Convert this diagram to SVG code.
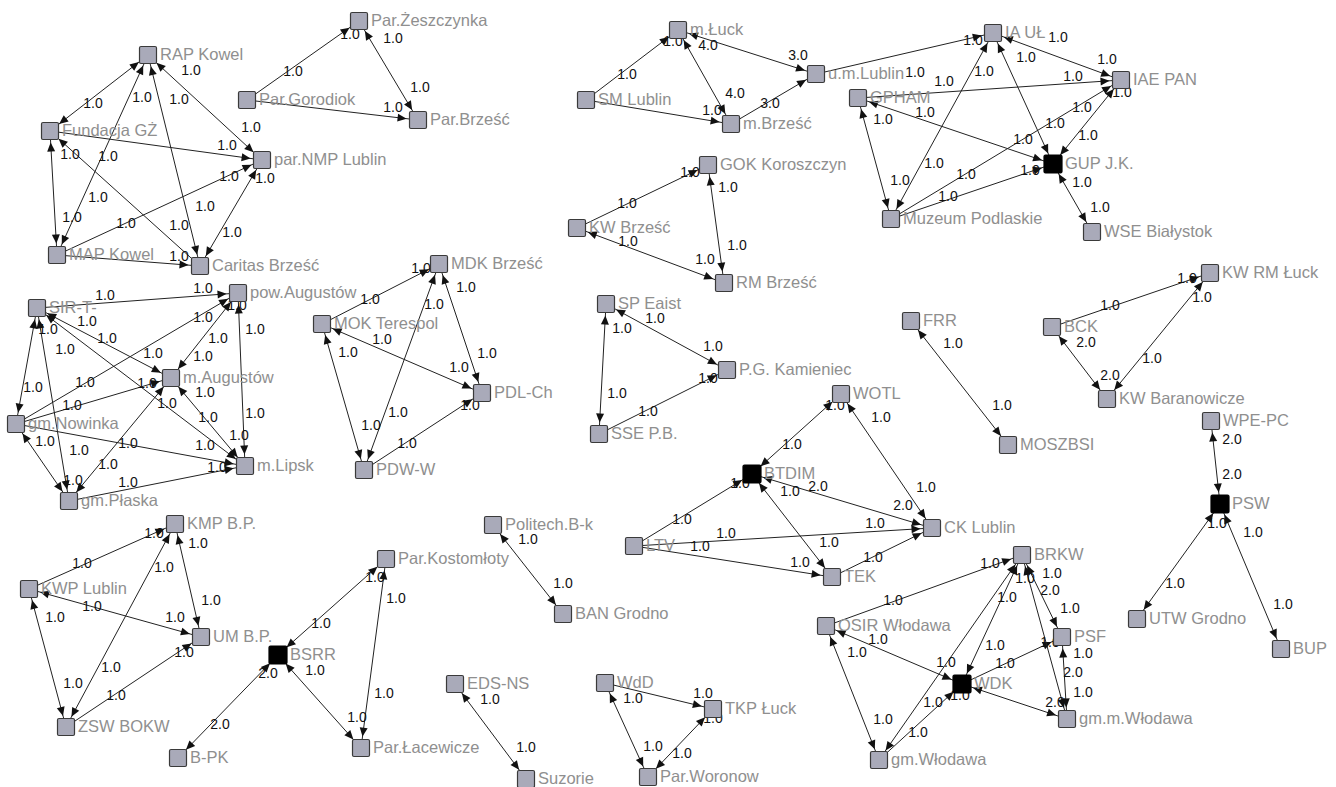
<svg xmlns="http://www.w3.org/2000/svg" width="1336" height="787" viewBox="0 0 1336 787">
<defs>
<marker id="ah" viewBox="-10 -5 23 10" refX="11.5" refY="0" markerWidth="23" markerHeight="10" markerUnits="userSpaceOnUse" orient="auto-start-reverse"><path d="M0,0 L-9,-4 L-9,4 Z" fill="#111"/></marker>
</defs>
<style>
line{stroke:#222;stroke-width:1;fill:none}
.bi{marker-start:url(#ah);marker-end:url(#ah)}
.u{marker-end:url(#ah)}
.sq{fill:#a9aab9;stroke:#3a3a3a;stroke-width:1.2}
.bk{fill:#000;stroke:#000;stroke-width:1.2}
.nl{font-family:"Liberation Sans",Arial,sans-serif;font-size:16.5px;fill:#8f8f8f}
.el text{font-family:"Liberation Sans",Arial,sans-serif;font-size:14px;fill:#111;text-anchor:middle}
</style>
<rect width="1336" height="787" fill="#fff"/>
<g id="connectors">
<line class="bi" x1="148" y1="55" x2="50" y2="131"/>
<line class="bi" x1="148" y1="55" x2="57" y2="255"/>
<line class="bi" x1="148" y1="55" x2="200" y2="266"/>
<line class="bi" x1="148" y1="55" x2="262" y2="160"/>
<line class="u" x1="50" y1="131" x2="262" y2="160"/>
<line class="bi" x1="50" y1="131" x2="57" y2="255"/>
<line class="u" x1="57" y1="255" x2="262" y2="160"/>
<line class="u" x1="200" y1="266" x2="50" y2="131"/>
<line class="u" x1="57" y1="255" x2="200" y2="266"/>
<line class="bi" x1="200" y1="266" x2="262" y2="160"/>
<line class="u" x1="247" y1="100" x2="359" y2="21"/>
<line class="bi" x1="359" y1="21" x2="418" y2="120"/>
<line class="u" x1="247" y1="100" x2="418" y2="120"/>
<line class="u" x1="586" y1="100" x2="678" y2="30"/>
<line class="bi" x1="678" y1="30" x2="816" y2="74"/>
<line class="bi" x1="731" y1="124" x2="678" y2="30"/>
<line class="u" x1="586" y1="100" x2="731" y2="124"/>
<line class="u" x1="731" y1="124" x2="816" y2="74"/>
<line class="u" x1="577" y1="228" x2="708" y2="165"/>
<line class="bi" x1="708" y1="165" x2="724" y2="283"/>
<line class="bi" x1="577" y1="228" x2="724" y2="283"/>
<line class="u" x1="816" y1="74" x2="993" y2="33"/>
<line class="u" x1="858" y1="98" x2="1121" y2="80"/>
<line class="bi" x1="993" y1="33" x2="1121" y2="80"/>
<line class="bi" x1="993" y1="33" x2="1053" y2="164"/>
<line class="bi" x1="993" y1="33" x2="891" y2="219"/>
<line class="bi" x1="858" y1="98" x2="891" y2="219"/>
<line class="bi" x1="858" y1="98" x2="1053" y2="164"/>
<line class="u" x1="891" y1="219" x2="1121" y2="80"/>
<line class="u" x1="891" y1="219" x2="1053" y2="164"/>
<line class="bi" x1="1121" y1="80" x2="1053" y2="164"/>
<line class="bi" x1="1053" y1="164" x2="1092" y2="232"/>
<line class="bi" x1="606" y1="304" x2="727" y2="370"/>
<line class="bi" x1="606" y1="304" x2="599" y2="434"/>
<line class="u" x1="599" y1="434" x2="727" y2="370"/>
<line class="bi" x1="911" y1="321" x2="1008" y2="445"/>
<line class="u" x1="1052" y1="327" x2="1210" y2="273"/>
<line class="bi" x1="1052" y1="327" x2="1107" y2="399"/>
<line class="bi" x1="1107" y1="399" x2="1210" y2="273"/>
<line class="bi" x1="1211" y1="421" x2="1220" y2="504"/>
<line class="bi" x1="1220" y1="504" x2="1137" y2="619"/>
<line class="bi" x1="1220" y1="504" x2="1281" y2="649"/>
<line class="bi" x1="752" y1="474" x2="841" y2="394"/>
<line class="bi" x1="841" y1="394" x2="932" y2="528"/>
<line class="bi" x1="752" y1="474" x2="932" y2="528"/>
<line class="u" x1="634" y1="546" x2="752" y2="474"/>
<line class="u" x1="634" y1="546" x2="932" y2="528"/>
<line class="u" x1="634" y1="546" x2="832" y2="577"/>
<line class="bi" x1="752" y1="474" x2="832" y2="577"/>
<line class="u" x1="832" y1="577" x2="932" y2="528"/>
<line class="u" x1="826" y1="626" x2="1022" y2="555"/>
<line class="bi" x1="826" y1="626" x2="962" y2="684"/>
<line class="bi" x1="826" y1="626" x2="879" y2="760"/>
<line class="bi" x1="879" y1="760" x2="1022" y2="555"/>
<line class="bi" x1="962" y1="684" x2="1022" y2="555"/>
<line class="u" x1="879" y1="760" x2="962" y2="684"/>
<line class="u" x1="962" y1="684" x2="1062" y2="637"/>
<line class="bi" x1="962" y1="684" x2="1067" y2="719"/>
<line class="bi" x1="1022" y1="555" x2="1062" y2="637"/>
<line class="bi" x1="1022" y1="555" x2="1067" y2="719"/>
<line class="bi" x1="1062" y1="637" x2="1067" y2="719"/>
<line class="u" x1="29" y1="589" x2="175" y2="524"/>
<line class="bi" x1="175" y1="524" x2="201" y2="637"/>
<line class="bi" x1="175" y1="524" x2="66" y2="727"/>
<line class="bi" x1="29" y1="589" x2="201" y2="637"/>
<line class="bi" x1="29" y1="589" x2="66" y2="727"/>
<line class="u" x1="66" y1="727" x2="201" y2="637"/>
<line class="bi" x1="278" y1="655" x2="386" y2="559"/>
<line class="bi" x1="386" y1="559" x2="361" y2="748"/>
<line class="bi" x1="278" y1="655" x2="361" y2="748"/>
<line class="bi" x1="178" y1="758" x2="278" y2="655"/>
<line class="bi" x1="493" y1="525" x2="563" y2="614"/>
<line class="bi" x1="455" y1="684" x2="526" y2="779"/>
<line class="u" x1="605" y1="683" x2="713" y2="709"/>
<line class="bi" x1="605" y1="683" x2="648" y2="777"/>
<line class="bi" x1="648" y1="777" x2="713" y2="709"/>
<line class="u" x1="37" y1="308" x2="238" y2="293"/>
<line class="bi" x1="37" y1="308" x2="171" y2="378"/>
<line class="bi" x1="37" y1="308" x2="245" y2="466"/>
<line class="bi" x1="37" y1="308" x2="16" y2="424"/>
<line class="bi" x1="37" y1="308" x2="69" y2="501"/>
<line class="u" x1="16" y1="424" x2="238" y2="293"/>
<line class="u" x1="16" y1="424" x2="171" y2="378"/>
<line class="u" x1="16" y1="424" x2="245" y2="466"/>
<line class="bi" x1="16" y1="424" x2="69" y2="501"/>
<line class="bi" x1="69" y1="501" x2="171" y2="378"/>
<line class="u" x1="69" y1="501" x2="245" y2="466"/>
<line class="bi" x1="171" y1="378" x2="238" y2="293"/>
<line class="bi" x1="171" y1="378" x2="245" y2="466"/>
<line class="bi" x1="245" y1="466" x2="238" y2="293"/>
<line class="u" x1="322" y1="324" x2="439" y2="264"/>
<line class="bi" x1="439" y1="264" x2="482" y2="393"/>
<line class="bi" x1="364" y1="470" x2="439" y2="264"/>
<line class="bi" x1="322" y1="324" x2="482" y2="393"/>
<line class="bi" x1="322" y1="324" x2="364" y2="470"/>
<line class="u" x1="364" y1="470" x2="482" y2="393"/>
</g>
<g id="edge-labels" class="el">
<text x="191" y="75">1.0</text><text x="93" y="108">1.0</text><text x="142" y="102">1.0</text><text x="179" y="104">1.0</text>
<text x="251" y="132">1.0</text><text x="227" y="150">1.0</text><text x="70" y="159">1.0</text><text x="108" y="161">1.0</text>
<text x="229" y="181">1.0</text><text x="265" y="183">1.0</text><text x="98" y="202">1.0</text><text x="205" y="211">1.0</text>
<text x="72" y="222">1.0</text><text x="126" y="228">1.0</text><text x="179" y="230">1.0</text><text x="232" y="237">1.0</text>
<text x="179" y="261">1.0</text>
<text x="293" y="76">1.0</text><text x="350" y="39">1.0</text><text x="393" y="43">1.0</text><text x="420" y="92">1.0</text><text x="393" y="112">1.0</text>
<text x="627" y="79">1.0</text><text x="673" y="46">1.0</text><text x="708" y="50">4.0</text><text x="798" y="60">3.0</text>
<text x="735" y="98">4.0</text><text x="712" y="115">1.0</text><text x="770" y="108">3.0</text>
<text x="627" y="208">1.0</text><text x="690" y="177">1.0</text><text x="728" y="192">1.0</text><text x="737" y="250">1.0</text>
<text x="705" y="264">1.0</text><text x="628" y="246">1.0</text>
<text x="973" y="45">1.0</text><text x="915" y="77">1.0</text><text x="944" y="86">1.0</text><text x="925" y="117">1.0</text>
<text x="1026" y="62">1.0</text><text x="1107" y="64">1.0</text><text x="1073" y="81">1.0</text><text x="1058" y="42">1.0</text>
<text x="984" y="76">1.0</text><text x="883" y="124">1.0</text><text x="1082" y="112">1.0</text><text x="1122" y="97">1.0</text>
<text x="1055" y="128">1.0</text><text x="1023" y="144">1.0</text><text x="1088" y="140">1.0</text><text x="934" y="168">1.0</text>
<text x="966" y="179">1.0</text><text x="900" y="185">1.0</text><text x="948" y="201">1.0</text><text x="1030" y="175">1.0</text>
<text x="1082" y="187">1.0</text><text x="1100" y="212">1.0</text>
<text x="655" y="323">1.0</text><text x="622" y="333">1.0</text><text x="713" y="351">1.0</text><text x="617" y="398">1.0</text>
<text x="648" y="416">1.0</text><text x="708" y="383">1.0</text>
<text x="953" y="348">1.0</text><text x="1002" y="410">1.0</text>
<text x="1110" y="310">1.0</text><text x="1187" y="283">1.0</text><text x="1202" y="302">1.0</text><text x="1152" y="363">1.0</text>
<text x="1086" y="347">2.0</text><text x="1110" y="380">2.0</text>
<text x="1232" y="444">2.0</text><text x="1232" y="479">2.0</text><text x="1217" y="528">1.0</text><text x="1175" y="588">1.0</text>
<text x="1253" y="537">1.0</text><text x="1283" y="609">1.0</text>
<text x="792" y="449">1.0</text><text x="835" y="410">1.0</text><text x="881" y="422">1.0</text><text x="926" y="492">1.0</text>
<text x="903" y="510">2.0</text><text x="790" y="496">1.0</text><text x="818" y="491">2.0</text><text x="682" y="524">1.0</text>
<text x="740" y="488">1.0</text><text x="700" y="551">1.0</text><text x="726" y="538">1.0</text><text x="875" y="528">1.0</text>
<text x="800" y="567">1.0</text><text x="829" y="547">1.0</text><text x="873" y="562">1.0</text>
<text x="893" y="605">1.0</text><text x="990" y="568">1.0</text><text x="878" y="644">1.0</text><text x="857" y="657">1.0</text>
<text x="883" y="724">1.0</text><text x="946" y="667">1.0</text><text x="1007" y="602">1.0</text><text x="995" y="650">1.0</text>
<text x="918" y="737">1.0</text><text x="933" y="707">1.0</text><text x="960" y="700">1.0</text><text x="1005" y="668">1.0</text>
<text x="1050" y="647">1.0</text><text x="1055" y="707">2.0</text><text x="1052" y="578">1.0</text><text x="1050" y="595">2.0</text>
<text x="1070" y="613">1.0</text><text x="1025" y="583">1.0</text><text x="1083" y="658">1.0</text><text x="1073" y="677">2.0</text>
<text x="1083" y="697">1.0</text>
<text x="82" y="568">1.0</text><text x="154" y="538">1.0</text><text x="198" y="548">1.0</text><text x="211" y="605">1.0</text>
<text x="164" y="572">1.0</text><text x="111" y="672">1.0</text><text x="92" y="611">1.0</text><text x="175" y="622">1.0</text>
<text x="55" y="622">1.0</text><text x="73" y="688">1.0</text><text x="116" y="700">1.0</text><text x="184" y="657">1.0</text>
<text x="321" y="628">1.0</text><text x="375" y="582">1.0</text><text x="396" y="603">1.0</text><text x="384" y="698">1.0</text>
<text x="357" y="722">1.0</text><text x="315" y="675">1.0</text><text x="220" y="729">2.0</text><text x="268" y="678">2.0</text>
<text x="528" y="544">1.0</text><text x="563" y="588">1.0</text><text x="490" y="704">1.0</text><text x="526" y="752">1.0</text>
<text x="633" y="703">1.0</text><text x="703" y="698">1.0</text><text x="653" y="751">1.0</text><text x="682" y="758">1.0</text>
<text x="713" y="723">1.0</text>
<text x="105" y="300">1.0</text><text x="203" y="293">1.0</text><text x="87" y="326">1.0</text><text x="48" y="334">1.0</text>
<text x="107" y="343">1.0</text><text x="65" y="354">1.0</text><text x="153" y="358">1.0</text><text x="203" y="361">1.0</text>
<text x="203" y="322">1.0</text><text x="218" y="343">1.0</text><text x="255" y="334">1.0</text><text x="33" y="392">1.0</text>
<text x="85" y="387">1.0</text><text x="147" y="388">1.0</text><text x="72" y="410">1.0</text><text x="205" y="397">1.0</text>
<text x="167" y="408">1.0</text><text x="255" y="418">1.0</text><text x="208" y="422">1.0</text><text x="45" y="446">1.0</text>
<text x="79" y="455">1.0</text><text x="128" y="448">1.0</text><text x="239" y="440">1.0</text><text x="108" y="469">1.0</text>
<text x="205" y="450">1.0</text><text x="217" y="472">1.0</text><text x="73" y="485">1.0</text><text x="128" y="487">1.0</text>
<text x="237" y="310">1.0</text>
<text x="370" y="304">1.0</text><text x="421" y="273">1.0</text><text x="466" y="292">1.0</text><text x="487" y="358">1.0</text>
<text x="434" y="309">1.0</text><text x="398" y="417">1.0</text><text x="371" y="430">1.0</text><text x="382" y="344">1.0</text>
<text x="459" y="372">1.0</text><text x="348" y="357">1.0</text><text x="407" y="448">1.0</text><text x="470" y="410">1.0</text>
</g>
<g id="n-rap-kowel" transform="translate(148,55)"><rect class="sq" x="-8.5" y="-8.5" width="17" height="17" rx="1.5"/><text class="nl" x="12" y="4.5">RAP Kowel</text></g>
<g id="n-fundacja-gz" transform="translate(50,131)"><rect class="sq" x="-8.5" y="-8.5" width="17" height="17" rx="1.5"/><text class="nl" x="12" y="4.5">Fundacja GŻ</text></g>
<g id="n-par-nmp-lublin" transform="translate(262,160)"><rect class="sq" x="-8.5" y="-8.5" width="17" height="17" rx="1.5"/><text class="nl" x="12" y="4.5">par.NMP Lublin</text></g>
<g id="n-map-kowel" transform="translate(57,255)"><rect class="sq" x="-8.5" y="-8.5" width="17" height="17" rx="1.5"/><text class="nl" x="12" y="4.5">MAP Kowel</text></g>
<g id="n-caritas-brzesc" transform="translate(200,266)"><rect class="sq" x="-8.5" y="-8.5" width="17" height="17" rx="1.5"/><text class="nl" x="12" y="4.5">Caritas Brześć</text></g>
<g id="n-par-zeszczynka" transform="translate(359,21)"><rect class="sq" x="-8.5" y="-8.5" width="17" height="17" rx="1.5"/><text class="nl" x="12" y="4.5">Par.Żeszczynka</text></g>
<g id="n-par-gorodiok" transform="translate(247,100)"><rect class="sq" x="-8.5" y="-8.5" width="17" height="17" rx="1.5"/><text class="nl" x="12" y="4.5">Par.Gorodiok</text></g>
<g id="n-par-brzesc" transform="translate(418,120)"><rect class="sq" x="-8.5" y="-8.5" width="17" height="17" rx="1.5"/><text class="nl" x="12" y="4.5">Par.Brześć</text></g>
<g id="n-m-luck" transform="translate(678,30)"><rect class="sq" x="-8.5" y="-8.5" width="17" height="17" rx="1.5"/><text class="nl" x="12" y="4.5">m.Łuck</text></g>
<g id="n-sm-lublin" transform="translate(586,100)"><rect class="sq" x="-8.5" y="-8.5" width="17" height="17" rx="1.5"/><text class="nl" x="12" y="4.5">SM Lublin</text></g>
<g id="n-m-brzesc" transform="translate(731,124)"><rect class="sq" x="-8.5" y="-8.5" width="17" height="17" rx="1.5"/><text class="nl" x="12" y="4.5">m.Brześć</text></g>
<g id="n-u-m-lublin" transform="translate(816,74)"><rect class="sq" x="-8.5" y="-8.5" width="17" height="17" rx="1.5"/><text class="nl" x="12" y="4.5">u.m.Lublin</text></g>
<g id="n-gok-koroszczyn" transform="translate(708,165)"><rect class="sq" x="-8.5" y="-8.5" width="17" height="17" rx="1.5"/><text class="nl" x="12" y="4.5">GOK Koroszczyn</text></g>
<g id="n-kw-brzesc" transform="translate(577,228)"><rect class="sq" x="-8.5" y="-8.5" width="17" height="17" rx="1.5"/><text class="nl" x="12" y="4.5">KW Brześć</text></g>
<g id="n-rm-brzesc" transform="translate(724,283)"><rect class="sq" x="-8.5" y="-8.5" width="17" height="17" rx="1.5"/><text class="nl" x="12" y="4.5">RM Brześć</text></g>
<g id="n-ia-ul" transform="translate(993,33)"><rect class="sq" x="-8.5" y="-8.5" width="17" height="17" rx="1.5"/><text class="nl" x="12" y="4.5">IA UŁ</text></g>
<g id="n-iae-pan" transform="translate(1121,80)"><rect class="sq" x="-8.5" y="-8.5" width="17" height="17" rx="1.5"/><text class="nl" x="12" y="4.5">IAE PAN</text></g>
<g id="n-gpham" transform="translate(858,98)"><rect class="sq" x="-8.5" y="-8.5" width="17" height="17" rx="1.5"/><text class="nl" x="12" y="4.5">GPHAM</text></g>
<g id="n-gup-jk" transform="translate(1053,164)"><rect class="bk" x="-9" y="-9" width="18" height="18" rx="1.5"/><text class="nl" x="12" y="4.5">GUP J.K.</text></g>
<g id="n-muzeum-podlaskie" transform="translate(891,219)"><rect class="sq" x="-8.5" y="-8.5" width="17" height="17" rx="1.5"/><text class="nl" x="12" y="4.5">Muzeum Podlaskie</text></g>
<g id="n-wse-bialystok" transform="translate(1092,232)"><rect class="sq" x="-8.5" y="-8.5" width="17" height="17" rx="1.5"/><text class="nl" x="12" y="4.5">WSE Białystok</text></g>
<g id="n-sp-eaist" transform="translate(606,304)"><rect class="sq" x="-8.5" y="-8.5" width="17" height="17" rx="1.5"/><text class="nl" x="12" y="4.5">SP Eaist</text></g>
<g id="n-pg-kamieniec" transform="translate(727,370)"><rect class="sq" x="-8.5" y="-8.5" width="17" height="17" rx="1.5"/><text class="nl" x="12" y="4.5">P.G. Kamieniec</text></g>
<g id="n-sse-pb" transform="translate(599,434)"><rect class="sq" x="-8.5" y="-8.5" width="17" height="17" rx="1.5"/><text class="nl" x="12" y="4.5">SSE P.B.</text></g>
<g id="n-frr" transform="translate(911,321)"><rect class="sq" x="-8.5" y="-8.5" width="17" height="17" rx="1.5"/><text class="nl" x="12" y="4.5">FRR</text></g>
<g id="n-moszbsi" transform="translate(1008,445)"><rect class="sq" x="-8.5" y="-8.5" width="17" height="17" rx="1.5"/><text class="nl" x="12" y="4.5">MOSZBSI</text></g>
<g id="n-kw-rm-luck" transform="translate(1210,273)"><rect class="sq" x="-8.5" y="-8.5" width="17" height="17" rx="1.5"/><text class="nl" x="12" y="4.5">KW RM Łuck</text></g>
<g id="n-bck" transform="translate(1052,327)"><rect class="sq" x="-8.5" y="-8.5" width="17" height="17" rx="1.5"/><text class="nl" x="12" y="4.5">BCK</text></g>
<g id="n-kw-baranowicze" transform="translate(1107,399)"><rect class="sq" x="-8.5" y="-8.5" width="17" height="17" rx="1.5"/><text class="nl" x="12" y="4.5">KW Baranowicze</text></g>
<g id="n-wpe-pc" transform="translate(1211,421)"><rect class="sq" x="-8.5" y="-8.5" width="17" height="17" rx="1.5"/><text class="nl" x="12" y="4.5">WPE-PC</text></g>
<g id="n-psw" transform="translate(1220,504)"><rect class="bk" x="-9" y="-9" width="18" height="18" rx="1.5"/><text class="nl" x="12" y="4.5">PSW</text></g>
<g id="n-utw-grodno" transform="translate(1137,619)"><rect class="sq" x="-8.5" y="-8.5" width="17" height="17" rx="1.5"/><text class="nl" x="12" y="4.5">UTW Grodno</text></g>
<g id="n-bup" transform="translate(1281,649)"><rect class="sq" x="-8.5" y="-8.5" width="17" height="17" rx="1.5"/><text class="nl" x="12" y="4.5">BUP</text></g>
<g id="n-btdim" transform="translate(752,474)"><rect class="bk" x="-9" y="-9" width="18" height="18" rx="1.5"/><text class="nl" x="12" y="4.5">BTDIM</text></g>
<g id="n-ltv" transform="translate(634,546)"><rect class="sq" x="-8.5" y="-8.5" width="17" height="17" rx="1.5"/><text class="nl" x="12" y="4.5">LTV</text></g>
<g id="n-tek" transform="translate(832,577)"><rect class="sq" x="-8.5" y="-8.5" width="17" height="17" rx="1.5"/><text class="nl" x="12" y="4.5">TEK</text></g>
<g id="n-ck-lublin" transform="translate(932,528)"><rect class="sq" x="-8.5" y="-8.5" width="17" height="17" rx="1.5"/><text class="nl" x="12" y="4.5">CK Lublin</text></g>
<g id="n-wotl" transform="translate(841,394)"><rect class="sq" x="-8.5" y="-8.5" width="17" height="17" rx="1.5"/><text class="nl" x="12" y="4.5">WOTL</text></g>
<g id="n-brkw" transform="translate(1022,555)"><rect class="sq" x="-8.5" y="-8.5" width="17" height="17" rx="1.5"/><text class="nl" x="12" y="4.5">BRKW</text></g>
<g id="n-osir-wlodawa" transform="translate(826,626)"><rect class="sq" x="-8.5" y="-8.5" width="17" height="17" rx="1.5"/><text class="nl" x="12" y="4.5">OSIR Włodawa</text></g>
<g id="n-wdk" transform="translate(962,684)"><rect class="bk" x="-9" y="-9" width="18" height="18" rx="1.5"/><text class="nl" x="12" y="4.5">WDK</text></g>
<g id="n-gm-wlodawa" transform="translate(879,760)"><rect class="sq" x="-8.5" y="-8.5" width="17" height="17" rx="1.5"/><text class="nl" x="12" y="4.5">gm.Włodawa</text></g>
<g id="n-psf" transform="translate(1062,637)"><rect class="sq" x="-8.5" y="-8.5" width="17" height="17" rx="1.5"/><text class="nl" x="12" y="4.5">PSF</text></g>
<g id="n-gm-m-wlodawa" transform="translate(1067,719)"><rect class="sq" x="-8.5" y="-8.5" width="17" height="17" rx="1.5"/><text class="nl" x="12" y="4.5">gm.m.Włodawa</text></g>
<g id="n-kmp-bp" transform="translate(175,524)"><rect class="sq" x="-8.5" y="-8.5" width="17" height="17" rx="1.5"/><text class="nl" x="12" y="4.5">KMP B.P.</text></g>
<g id="n-kwp-lublin" transform="translate(29,589)"><rect class="sq" x="-8.5" y="-8.5" width="17" height="17" rx="1.5"/><text class="nl" x="12" y="4.5">KWP Lublin</text></g>
<g id="n-um-bp" transform="translate(201,637)"><rect class="sq" x="-8.5" y="-8.5" width="17" height="17" rx="1.5"/><text class="nl" x="12" y="4.5">UM B.P.</text></g>
<g id="n-zsw-bokw" transform="translate(66,727)"><rect class="sq" x="-8.5" y="-8.5" width="17" height="17" rx="1.5"/><text class="nl" x="12" y="4.5">ZSW BOKW</text></g>
<g id="n-bsrr" transform="translate(278,655)"><rect class="bk" x="-9" y="-9" width="18" height="18" rx="1.5"/><text class="nl" x="12" y="4.5">BSRR</text></g>
<g id="n-b-pk" transform="translate(178,758)"><rect class="sq" x="-8.5" y="-8.5" width="17" height="17" rx="1.5"/><text class="nl" x="12" y="4.5">B-PK</text></g>
<g id="n-par-kostomloty" transform="translate(386,559)"><rect class="sq" x="-8.5" y="-8.5" width="17" height="17" rx="1.5"/><text class="nl" x="12" y="4.5">Par.Kostomłoty</text></g>
<g id="n-par-lacewicze" transform="translate(361,748)"><rect class="sq" x="-8.5" y="-8.5" width="17" height="17" rx="1.5"/><text class="nl" x="12" y="4.5">Par.Łacewicze</text></g>
<g id="n-politech-bk" transform="translate(493,525)"><rect class="sq" x="-8.5" y="-8.5" width="17" height="17" rx="1.5"/><text class="nl" x="12" y="4.5">Politech.B-k</text></g>
<g id="n-ban-grodno" transform="translate(563,614)"><rect class="sq" x="-8.5" y="-8.5" width="17" height="17" rx="1.5"/><text class="nl" x="12" y="4.5">BAN Grodno</text></g>
<g id="n-eds-ns" transform="translate(455,684)"><rect class="sq" x="-8.5" y="-8.5" width="17" height="17" rx="1.5"/><text class="nl" x="12" y="4.5">EDS-NS</text></g>
<g id="n-suzorie" transform="translate(526,779)"><rect class="sq" x="-8.5" y="-8.5" width="17" height="17" rx="1.5"/><text class="nl" x="12" y="4.5">Suzorie</text></g>
<g id="n-wdd" transform="translate(605,683)"><rect class="sq" x="-8.5" y="-8.5" width="17" height="17" rx="1.5"/><text class="nl" x="12" y="4.5">WdD</text></g>
<g id="n-tkp-luck" transform="translate(713,709)"><rect class="sq" x="-8.5" y="-8.5" width="17" height="17" rx="1.5"/><text class="nl" x="12" y="4.5">TKP Łuck</text></g>
<g id="n-par-woronow" transform="translate(648,777)"><rect class="sq" x="-8.5" y="-8.5" width="17" height="17" rx="1.5"/><text class="nl" x="12" y="4.5">Par.Woronow</text></g>
<g id="n-sir-t" transform="translate(37,308)"><rect class="sq" x="-8.5" y="-8.5" width="17" height="17" rx="1.5"/><text class="nl" x="12" y="4.5">SIR-T-</text></g>
<g id="n-pow-augustow" transform="translate(238,293)"><rect class="sq" x="-8.5" y="-8.5" width="17" height="17" rx="1.5"/><text class="nl" x="12" y="4.5">pow.Augustów</text></g>
<g id="n-m-augustow" transform="translate(171,378)"><rect class="sq" x="-8.5" y="-8.5" width="17" height="17" rx="1.5"/><text class="nl" x="12" y="4.5">m.Augustów</text></g>
<g id="n-gm-nowinka" transform="translate(16,424)"><rect class="sq" x="-8.5" y="-8.5" width="17" height="17" rx="1.5"/><text class="nl" x="12" y="4.5">gm.Nowinka</text></g>
<g id="n-m-lipsk" transform="translate(245,466)"><rect class="sq" x="-8.5" y="-8.5" width="17" height="17" rx="1.5"/><text class="nl" x="12" y="4.5">m.Lipsk</text></g>
<g id="n-gm-plaska" transform="translate(69,501)"><rect class="sq" x="-8.5" y="-8.5" width="17" height="17" rx="1.5"/><text class="nl" x="12" y="4.5">gm.Płaska</text></g>
<g id="n-mdk-brzesc" transform="translate(439,264)"><rect class="sq" x="-8.5" y="-8.5" width="17" height="17" rx="1.5"/><text class="nl" x="12" y="4.5">MDK Brześć</text></g>
<g id="n-mok-terespol" transform="translate(322,324)"><rect class="sq" x="-8.5" y="-8.5" width="17" height="17" rx="1.5"/><text class="nl" x="12" y="4.5">MOK Terespol</text></g>
<g id="n-pdl-ch" transform="translate(482,393)"><rect class="sq" x="-8.5" y="-8.5" width="17" height="17" rx="1.5"/><text class="nl" x="12" y="4.5">PDL-Ch</text></g>
<g id="n-pdw-w" transform="translate(364,470)"><rect class="sq" x="-8.5" y="-8.5" width="17" height="17" rx="1.5"/><text class="nl" x="12" y="4.5">PDW-W</text></g>
</svg>
